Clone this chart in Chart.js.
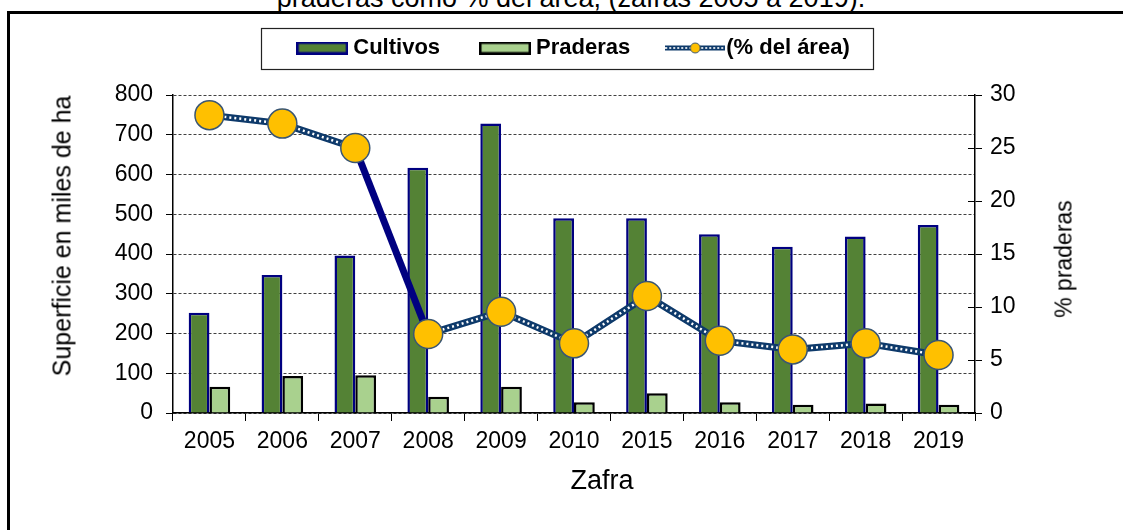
<!DOCTYPE html>
<html><head><meta charset="utf-8">
<script src="https://cdn.jsdelivr.net/npm/chart.js@4.4.1/dist/chart.umd.min.js"></script>
<style>
html,body{margin:0;padding:0;background:#fff;width:1123px;height:530px;overflow:hidden;position:relative;}
#frame{position:absolute;left:7px;top:11px;width:1300px;height:700px;border-left:3px solid #000;border-top:3px solid #000;box-sizing:border-box;}
#title{position:absolute;left:0;width:1142px;top:-15px;text-align:center;font:27px "Liberation Sans",Arial,sans-serif;line-height:27px;color:#000;white-space:nowrap;}
.ax{position:absolute;white-space:nowrap;color:#000;font-family:"Liberation Sans",Arial,sans-serif;line-height:1;}
#ytitle{left:62px;top:236px;font-size:25px;transform:translate(-50%,-50%) rotate(-90deg);}
#y1title{left:1064px;top:259px;font-size:23px;transform:translate(-50%,-50%) rotate(-90deg);}
#xtitle{left:602px;top:480px;font-size:27px;transform:translate(-50%,-50%);}
#c{position:absolute;left:0;top:0;}
</style></head>
<body>
<div id="frame"></div>
<div id="title">praderas como % del área, (zafras 2005 a 2019).</div>
<canvas id="c" width="1123" height="530"></canvas>
<div class="ax" id="ytitle">Superficie en miles de ha</div>
<div class="ax" id="y1title">% praderas</div>
<div class="ax" id="xtitle">Zafra</div>
<script>
// ---- data ----
const categories = ['2005','2006','2007','2008','2009','2010','2015','2016','2017','2018','2019'];
const cultivos = [252, 347, 396, 617, 728, 490, 490, 450, 418, 444, 473];
const praderas = [66, 93, 95, 41, 66, 27, 50, 27, 21, 24, 21];
const pctArea = [28.1, 27.3, 25.0, 7.45, 9.56, 6.57, 11.04, 6.82, 6.0, 6.57, 5.47];
const leftTicks = [0, 800, 100];   // min, max, step
const rightTicks = [0, 30, 5];
const seriesNames = ['Cultivos', 'Praderas', '(% del área)'];

const FONT = '"Liberation Sans", Arial, sans-serif';
const C_CULT = '#548235', C_CULT_B = '#000080';
const C_PRAD = '#A9D18E', C_PRAD_B = '#000000';
const C_LINE = '#0E3A6B', C_JUMP = '#000080';
const C_PT = '#FFC000', C_PT_B = '#3A5673';

function swatch(w, h, fill, stroke) {
  const c = document.createElement('canvas'); c.width = w; c.height = h;
  const x = c.getContext('2d');
  x.fillStyle = fill; x.fillRect(0, 0, w, h);
  x.strokeStyle = stroke; x.lineWidth = 2.5; x.strokeRect(1.25, 1.25, w - 2.5, h - 2.5);
  return c;
}
function lineSwatch() {
  const w = 60, h = 14;
  const c = document.createElement('canvas'); c.width = w; c.height = h;
  const x = c.getContext('2d');
  x.strokeStyle = C_LINE; x.lineWidth = 5; x.beginPath(); x.moveTo(0, 7); x.lineTo(w, 7); x.stroke();
  x.strokeStyle = '#fff'; x.lineWidth = 1.6; x.setLineDash([2, 2]); x.beginPath(); x.moveTo(0, 7); x.lineTo(w, 7); x.stroke();
  x.setLineDash([]);
  x.fillStyle = C_PT; x.strokeStyle = C_PT_B; x.lineWidth = 1;
  x.beginPath(); x.arc(w / 2, 7, 5, 0, Math.PI * 2); x.fill(); x.stroke();
  return c;
}
const swCult = swatch(52, 13, C_CULT, C_CULT_B);
const swPrad = swatch(52, 13, C_PRAD, C_PRAD_B);
const swLine = lineSwatch();

const LEGEND_TOP = -8;
const layoutPlugin = {
  id: 'layoutFix',
  beforeLayout(chart) {
    const lg = chart.legend;
    if (lg && !lg._wrapped) {
      const f = lg.fit;
      lg.fit = function () { f.call(this); this.height = 95 - LEGEND_TOP; };
      lg._wrapped = true;
    }
  },
  afterDraw(chart) {
    const ctx = chart.ctx;
    const hb = chart.legend && chart.legend.legendHitBoxes;
    if (hb && hb.length) {
      const first = hb[0], last = hb[hb.length - 1];
      const cy = first.top + first.height / 2;
      const l = Math.round(first.left - 41), r = Math.round(last.left + last.width + 23);
      ctx.save();
      ctx.strokeStyle = '#222'; ctx.lineWidth = 1.2;
      ctx.strokeRect(l + 0.5, Math.round(cy - 20.5) + 0.5, r - l, 41);
      ctx.restore();
    }
    const s = chart.scales.y1, a = chart.chartArea;
    ctx.save(); ctx.strokeStyle = '#000'; ctx.lineWidth = 1;
    s.ticks.forEach(t => {
      const y = Math.round(s.getPixelForValue(t.value)) + 0.5;
      ctx.beginPath(); ctx.moveTo(a.right - 7, y); ctx.lineTo(a.right, y); ctx.stroke();
    });
    ctx.restore();
  }
};

new Chart(document.getElementById('c'), {
  type: 'bar',
  data: {
    labels: categories,
    datasets: [
      { type: 'bar', label: seriesNames[0], data: cultivos, yAxisID: 'y', order: 9,
        backgroundColor: C_CULT, borderColor: C_CULT_B, borderWidth: 2.5,
        categoryPercentage: 0.57, barPercentage: 1.0 },
      { type: 'bar', label: seriesNames[1], data: praderas, yAxisID: 'y', order: 10,
        backgroundColor: C_PRAD, borderColor: C_PRAD_B, borderWidth: 2.5,
        categoryPercentage: 0.57, barPercentage: 1.0 },
      { type: 'line', label: seriesNames[2], data: pctArea, yAxisID: 'y1', order: 3,
        borderColor: C_LINE, borderWidth: 7, pointRadius: 0, tension: 0, fill: false,
        segment: { borderColor: c => c.p0DataIndex === 2 ? C_JUMP : undefined } },
      { type: 'line', label: '_dots', data: pctArea, yAxisID: 'y1', order: 2,
        borderColor: '#ffffff', borderWidth: 2.5, borderDash: [2, 3], pointRadius: 0, tension: 0, fill: false,
        segment: { borderColor: c => c.p0DataIndex === 2 ? 'rgba(0,0,0,0)' : undefined } },
      { type: 'line', label: '_pts', data: pctArea, yAxisID: 'y1', order: 1, showLine: false,
        pointRadius: 14.5, pointBackgroundColor: C_PT, pointBorderColor: C_PT_B, pointBorderWidth: 1.5 }
    ]
  },
  options: {
    responsive: false, animation: false, events: [],
    devicePixelRatio: 1,
    layout: { padding: { left: 69, right: 40, top: LEGEND_TOP, bottom: 32 } },
    plugins: {
      tooltip: { enabled: false },
      legend: {
        position: 'top',
        labels: {
          usePointStyle: true, pointStyleWidth: 40, padding: 45, color: '#000',
          font: { family: FONT, size: 22, weight: 'bold' },
          generateLabels: () => [
            { text: seriesNames[0], pointStyle: swCult, fillStyle: C_CULT, strokeStyle: C_CULT_B, lineWidth: 0, hidden: false, datasetIndex: 0, fontColor: '#000' },
            { text: seriesNames[1], pointStyle: swPrad, fillStyle: C_PRAD, strokeStyle: C_PRAD_B, lineWidth: 0, hidden: false, datasetIndex: 1, fontColor: '#000' },
            { text: seriesNames[2], pointStyle: swLine, fillStyle: C_PT, strokeStyle: C_LINE, lineWidth: 0, hidden: false, datasetIndex: 2, fontColor: '#000' }
          ]
        }
      }
    },
    scales: {
      x: {
        type: 'category', offset: true,
        grid: { display: true, drawOnChartArea: false, drawTicks: true, tickLength: 8, color: '#000', offset: true },
        border: { display: true, color: '#000', width: 1.5 },
        ticks: { color: '#000', font: { family: FONT, size: 23 }, padding: 7, maxRotation: 0 },
        afterFit: s => { s.height = 85; }
      },
      y: {
        position: 'left', min: leftTicks[0], max: leftTicks[1],
        ticks: { stepSize: leftTicks[2], color: '#000', font: { family: FONT, size: 23 }, padding: 13 },
        grid: { color: '#404040', lineWidth: 1, drawTicks: true, tickLength: 7, tickColor: '#000' },
        border: { display: true, color: '#000', width: 1.5, dash: [3, 2] },
        afterFit: s => { s.width = 104; }
      },
      y1: {
        position: 'right', min: rightTicks[0], max: rightTicks[1],
        ticks: { stepSize: rightTicks[2], color: '#000', font: { family: FONT, size: 23 }, padding: 8 },
        grid: { drawOnChartArea: false, drawTicks: true, tickLength: 7, color: '#000' },
        border: { display: true, color: '#000', width: 1.5 },
        afterFit: s => { s.width = 108; }
      }
    }
  },
  plugins: [layoutPlugin]
});
</script>
</body></html>
